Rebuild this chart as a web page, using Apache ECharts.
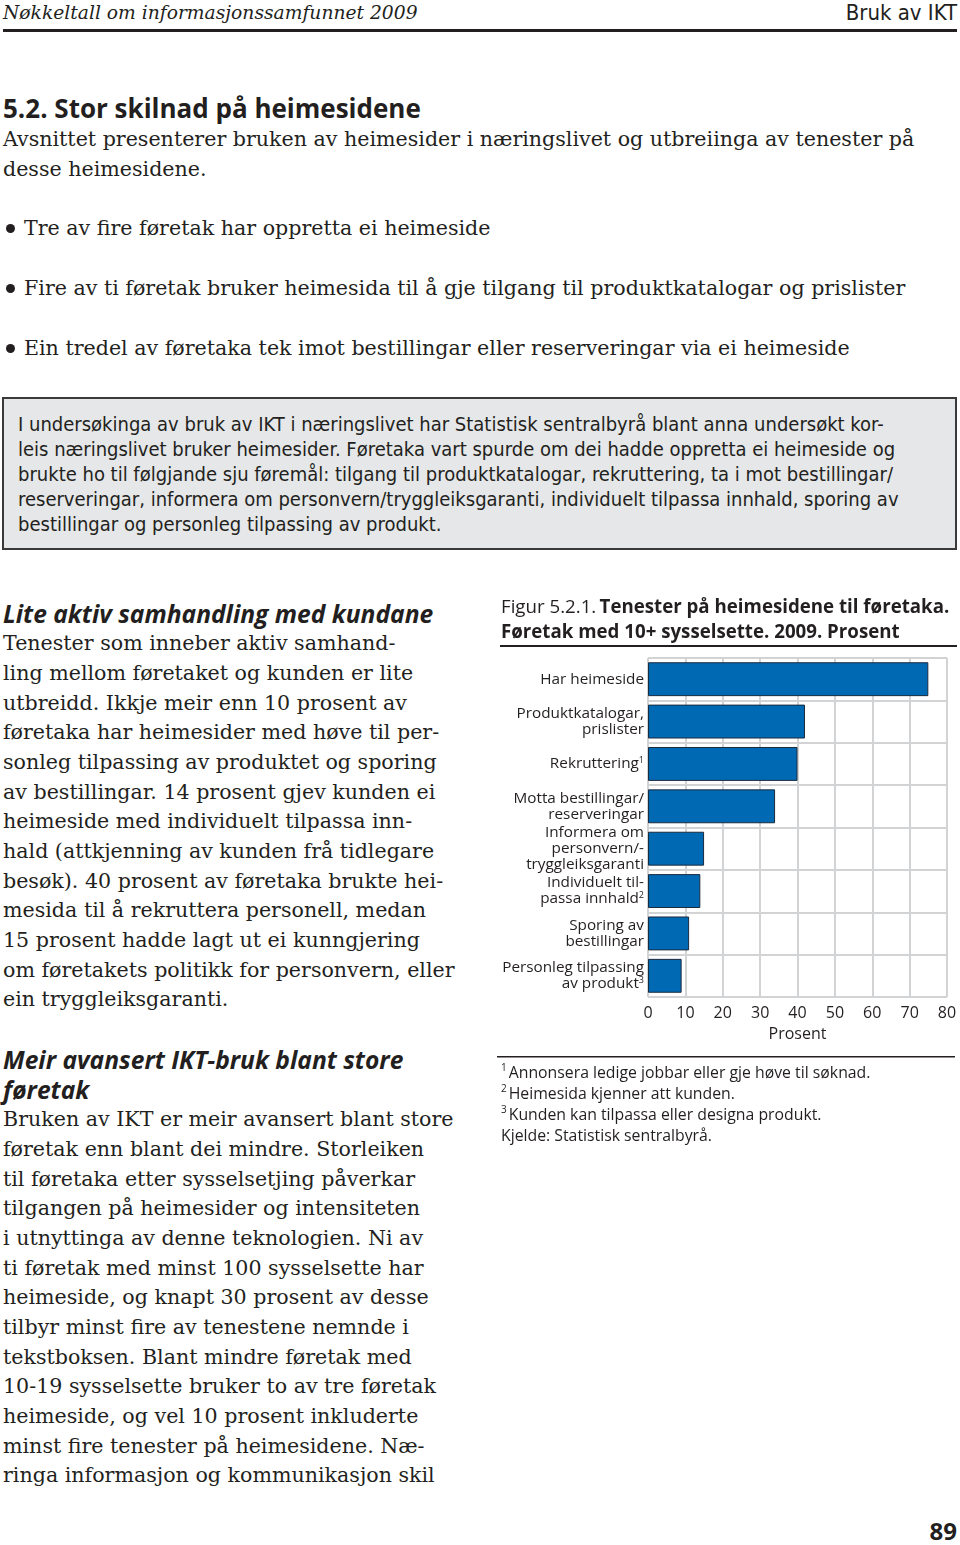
<!DOCTYPE html>
<html><head><meta charset="utf-8">
<script src="https://cdn.jsdelivr.net/npm/echarts/dist/echarts.min.js"></script>
<style>
html,body{margin:0;padding:0;background:#fff;}
body{width:960px;height:1545px;position:relative;overflow:hidden;color:#231f20;}
.t{position:absolute;white-space:nowrap;}
.serif{font-family:"DejaVu Serif","Liberation Serif",serif;}
.sans{font-family:"Open Sans","Noto Sans",sans-serif;}
.narrow{font-family:"Liberation Sans Narrow","DejaVu Sans Condensed","Liberation Sans",sans-serif;}
#box{position:absolute;left:2px;top:397px;width:951px;height:149px;background:#e6e7e8;border:2px solid #3a3a3a;}
#chart{position:absolute;left:495px;top:590px;width:465px;height:560px;}
.bul{position:absolute;left:6px;width:9px;height:9px;border-radius:50%;background:#231f20;}
</style></head><body>

<div class="t serif" style="left:3px;top:0px;font-size:18.7px;line-height:26px;font-style:italic;">Nøkkeltall om informasjonssamfunnet 2009</div>
<div class="t narrow" style="right:3px;top:0px;font-size:22px;line-height:26px;">Bruk av IKT</div>
<div style="position:absolute;left:3px;top:29px;width:954px;height:3px;background:#231f20;"></div>

<div class="t sans" style="left:3px;top:92px;font-size:26px;line-height:32px;font-weight:700;">5.2. Stor skilnad på heimesidene</div>
<div class="t serif" style="left:3px;top:124px;font-size:20.6px;line-height:30px;">Avsnittet presenterer bruken av heimesider i næringslivet og utbreiinga av tenester på<br>desse heimesidene.</div>

<div class="bul" style="top:224px;"></div>
<div class="t serif" style="left:24px;top:213px;font-size:20.6px;line-height:30px;">Tre av fire føretak har oppretta ei heimeside</div>
<div class="bul" style="top:284px;"></div>
<div class="t serif" style="left:24px;top:273px;font-size:20.6px;line-height:30px;">Fire av ti føretak bruker heimesida til å gje tilgang til produktkatalogar og prislister</div>
<div class="bul" style="top:344px;"></div>
<div class="t serif" style="left:24px;top:333px;font-size:20.6px;line-height:30px;">Ein tredel av føretaka tek imot bestillingar eller reserveringar via ei heimeside</div>

<div id="box"></div>
<div class="t narrow" style="left:18px;top:411.5px;font-size:20px;line-height:25px;">I undersøkinga av bruk av IKT i næringslivet har Statistisk sentralbyrå blant anna undersøkt kor-<br>leis næringslivet bruker heimesider. Føretaka vart spurde om dei hadde oppretta ei heimeside og<br>brukte ho til følgjande sju føremål: tilgang til produktkatalogar, rekruttering, ta i mot bestillingar/<br>reserveringar, informera om personvern/tryggleiksgaranti, individuelt tilpassa innhald, sporing av<br>bestillingar og personleg tilpassing av produkt.</div>

<div class="t sans" style="left:3px;top:599px;font-size:24.6px;line-height:30px;font-weight:700;font-style:italic;">Lite aktiv samhandling med kundane</div>
<div class="t serif" style="left:3px;top:629.2px;font-size:20.6px;line-height:29.67px;">Tenester som inneber aktiv samhand-<br>ling mellom føretaket og kunden er lite<br>utbreidd. Ikkje meir enn 10 prosent av<br>føretaka har heimesider med høve til per-<br>sonleg tilpassing av produktet og sporing<br>av bestillingar. 14 prosent gjev kunden ei<br>heimeside med individuelt tilpassa inn-<br>hald (attkjenning av kunden frå tidlegare<br>besøk). 40 prosent av føretaka brukte hei-<br>mesida til å rekruttera personell, medan<br>15 prosent hadde lagt ut ei kunngjering<br>om føretakets politikk for personvern, eller<br>ein tryggleiksgaranti.</div>

<div class="t sans" style="left:3px;top:1045px;font-size:24.6px;line-height:29.67px;font-weight:700;font-style:italic;">Meir avansert IKT-bruk blant store<br>føretak</div>
<div class="t serif" style="left:3px;top:1105.2px;font-size:20.6px;line-height:29.67px;">Bruken av IKT er meir avansert blant store<br>føretak enn blant dei mindre. Storleiken<br>til føretaka etter sysselsetjing påverkar<br>tilgangen på heimesider og intensiteten<br>i utnyttinga av denne teknologien. Ni av<br>ti føretak med minst 100 sysselsette har<br>heimeside, og knapt 30 prosent av desse<br>tilbyr minst fire av tenestene nemnde i<br>tekstboksen. Blant mindre føretak med<br>10-19 sysselsette bruker to av tre føretak<br>heimeside, og vel 10 prosent inkluderte<br>minst fire tenester på heimesidene. Næ-<br>ringa informasjon og kommunikasjon skil</div>

<div class="t sans" style="right:3px;top:1516px;font-size:24px;line-height:30px;font-weight:700;">89</div>

<div id="chart"></div>
<script>
// ---- data ----
const categories = [
  'Har heimeside',
  'Produktkatalogar,\nprislister',
  'Rekruttering{sup|1}',
  'Motta bestillingar/\nreserveringar',
  'Informera om\npersonvern/-\ntryggleiksgaranti',
  'Individuelt til-\npassa innhald{sup|2}',
  'Sporing av\nbestillingar',
  'Personleg tilpassing\nav produkt{sup|3}'
];
const values = [75, 42, 40, 34, 15, 14, 11, 9];
const xMin = 0, xMax = 80, xStep = 10;
const titleLead = 'Figur 5.2.1.';
const titleBold1 = 'Tenester på heimesidene til føretaka.';
const titleBold2 = 'Føretak med 10+ sysselsette. 2009. Prosent';
const axisName = 'Prosent';
const footnotes = [
  ['1', 'Annonsera ledige jobbar eller gje høve til søknad.'],
  ['2', 'Heimesida kjenner att kunden.'],
  ['3', 'Kunden kan tilpassa eller designa produkt.']
];
const source = 'Kjelde: Statistisk sentralbyrå.';

const FONT = '"Open Sans","Noto Sans",sans-serif';
const ink = '#231f20';
const gridCol = '#d2d3d4';

const chart = echarts.init(document.getElementById('chart'), null, {renderer: 'canvas'});

const graphics = [
  {type: 'text', left: 6, top: 8, style: {
    text: '{n|' + titleLead + '} {b|' + titleBold1 + '}\n{b|' + titleBold2 + '}',
    rich: {
      n: {fontFamily: FONT, fontSize: 18.7, fill: ink, lineHeight: 25},
      b: {fontFamily: FONT, fontSize: 18.7, fontWeight: 700, fill: ink, lineHeight: 25}
    }
  }},
  {type: 'rect', shape: {x: 5, y: 55, width: 457, height: 2}, style: {fill: ink}},
  {type: 'rect', shape: {x: 2, y: 466, width: 458, height: 1.5}, style: {fill: ink}}
];
footnotes.forEach((f, i) => {
  graphics.push({type: 'text', left: 6, top: 483 + i * 21 - 10, style: {
    text: '{s|' + f[0] + '}' + f[1],
    rich: {
      s: {fontFamily: FONT, fontSize: 10, fill: ink, verticalAlign: 'top', lineHeight: 10, padding: [0, 2, 0, 0]}
    },
    fontFamily: FONT, fontSize: 15.8, fill: ink, lineHeight: 20
  }});
});
graphics.push({type: 'text', left: 6, top: 483 + 3 * 21 - 10, style: {
  text: source, fontFamily: FONT, fontSize: 15.8, fill: ink, lineHeight: 20
}});

chart.setOption({
  animation: false,
  grid: {left: 153, top: 68, width: 299, height: 339, containLabel: false},
  xAxis: {
    type: 'value', min: xMin, max: xMax, interval: xStep,
    axisLine: {show: false}, axisTick: {show: false},
    splitLine: {show: true, lineStyle: {color: gridCol, width: 2}},
    axisLabel: {fontFamily: FONT, fontSize: 16, color: ink, margin: 8},
    name: axisName, nameLocation: 'middle', nameGap: 29,
    nameTextStyle: {fontFamily: FONT, fontSize: 16, color: ink}
  },
  yAxis: {
    type: 'category', data: categories, inverse: true,
    axisLine: {show: false}, axisTick: {show: false},
    splitLine: {show: true, lineStyle: {color: gridCol, width: 2}},
    axisLabel: {
      fontFamily: FONT, fontSize: 15.3, color: ink, lineHeight: 16, margin: 4, align: 'right',
      rich: {sup: {fontFamily: FONT, fontSize: 9, color: ink, verticalAlign: 'top', lineHeight: 9}}
    }
  },
  series: [{
    type: 'bar', data: values, barCategoryGap: '20%',
    itemStyle: {color: '#0069b4', borderColor: '#1b2b3f', borderWidth: 1}
  }],
  graphic: graphics
});
</script>
</body></html>
